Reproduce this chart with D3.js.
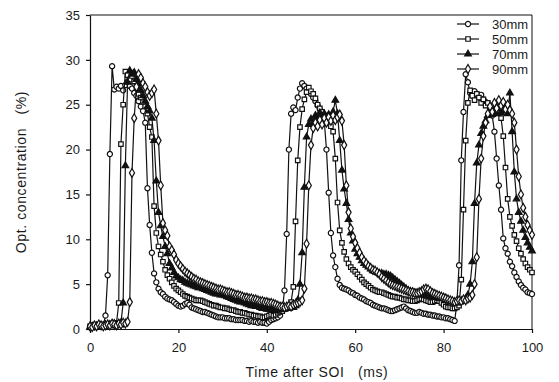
<!DOCTYPE html>
<html>
<head>
<meta charset="utf-8">
<script src="https://cdnjs.cloudflare.com/ajax/libs/d3/7.8.5/d3.min.js"></script>
<style>
  body { margin: 0; background: #fff; }
  text { font-family: 'Liberation Sans', Arial, sans-serif; fill: #1a1a1a; }
</style>
</head>
<body>
<div class="container"></div>
<script>
// samples every 0.5 ms, 0..100
let times = d3.range(0, 100.5, 0.5);

let xTicks = [0, 20, 40, 60, 80, 100];
let yTicks = [0, 5, 10, 15, 20, 25, 30, 35];

let seriesNames = ['30mm', '50mm', '70mm', '90mm'];

let s30 = [
  0.2,0.3,0.2,0.4,0.3,0.5,0.4,1.5,6.0,19.5,29.3,26.7,27.0,26.8,27.1,26.6,27.2,27.6,27.1,26.8,
  26.3,26.0,25.4,24.8,24.3,23.0,15.7,11.6,8.5,6.2,5.2,4.5,4.1,3.9,3.6,3.4,3.3,3.2,3.0,2.8,
  2.6,2.5,2.6,2.8,2.9,2.7,2.4,2.3,2.2,2.1,2.0,1.9,1.9,1.8,1.7,1.6,1.5,1.4,1.3,1.3,
  1.3,1.2,1.2,1.2,1.1,1.1,1.0,1.0,1.0,1.0,0.9,0.9,0.8,0.9,0.8,0.8,0.7,0.8,0.7,0.7,
  0.6,0.8,1.0,1.1,1.2,1.3,1.5,2.0,4.3,10.6,20.0,24.0,24.7,24.4,25.8,26.8,27.4,27.1,26.8,26.6,
  26.2,25.8,25.4,24.9,24.5,24.0,23.2,20.0,15.2,10.7,8.2,6.9,5.6,4.9,4.6,4.5,4.4,4.3,4.1,4.0,
  3.8,3.7,3.5,3.4,3.3,3.1,3.0,2.9,2.7,2.6,2.5,2.4,2.3,2.3,2.2,2.1,2.0,2.0,2.1,2.2,
  2.3,2.4,2.5,2.3,2.1,2.0,1.9,1.8,1.8,1.9,1.8,1.7,1.7,1.6,1.6,1.5,1.5,1.4,1.4,1.3,
  1.3,1.2,1.2,1.1,1.0,0.9,2.8,7.1,18.8,24.2,28.4,27.5,26.3,26.0,26.5,26.2,25.8,26.1,25.6,25.3,
  25.0,24.6,23.8,22.0,19.0,16.0,13.3,10.1,9.0,8.4,7.5,7.0,6.3,5.8,5.3,4.9,4.6,4.4,4.1,4.0,
  3.9
];

let s50 = [
  0.3,0.4,0.3,0.5,0.4,0.3,0.5,0.4,0.5,0.6,0.5,0.6,0.7,2.9,20.6,25.0,28.7,28.3,27.8,28.2,
  27.6,27.0,26.2,25.8,25.3,24.8,24.0,22.5,21.4,13.7,10.7,9.2,8.3,7.5,6.6,6.0,5.6,5.2,4.8,4.5,
  4.3,4.1,3.9,3.7,3.6,3.5,3.4,3.3,3.2,3.2,3.2,3.1,3.0,2.9,2.8,2.7,2.6,2.6,2.5,2.4,
  2.4,2.3,2.3,2.2,2.1,2.1,2.0,1.9,1.9,1.8,1.8,1.7,1.6,1.6,1.5,1.5,1.4,1.4,1.3,1.3,
  1.4,1.5,1.6,1.5,1.6,1.8,1.9,2.0,2.2,2.4,2.6,3.0,4.7,12.0,18.8,22.5,24.5,25.6,26.4,26.9,
  26.5,26.2,25.7,25.0,24.6,24.2,23.8,23.3,23.0,22.6,22.0,19.0,14.1,11.0,9.6,8.6,7.8,7.3,6.9,6.6,
  6.4,6.1,5.8,5.5,5.2,5.0,4.8,4.6,4.4,4.3,4.2,4.1,4.1,4.0,3.9,3.8,3.7,3.6,3.6,3.5,
  3.5,3.4,3.3,3.3,3.2,3.2,3.1,3.1,3.2,3.3,3.4,3.3,3.2,3.1,3.0,3.0,3.1,3.2,3.1,2.9,
  2.7,2.5,2.4,2.4,2.3,2.3,2.4,2.6,5.5,13.3,21.0,25.2,26.6,26.0,25.5,26.2,25.8,25.2,25.6,24.9,
  25.2,24.6,24.9,24.3,24.6,24.1,23.5,21.5,18.0,14.5,12.5,11.5,10.5,9.8,9.0,8.4,7.8,7.3,6.9,6.6,
  6.3
];

let s70 = [
  0.2,0.3,0.4,0.3,0.2,0.4,0.3,0.5,0.4,0.5,0.4,0.6,0.5,0.6,0.7,2.9,18.2,27.5,28.8,28.4,
  28.6,27.8,27.3,26.6,26.0,25.4,24.8,24.3,23.5,21.0,16.5,13.0,11.5,10.3,9.2,8.4,7.3,6.8,6.3,5.9,
  5.7,5.5,5.4,5.2,5.1,5.0,4.9,4.8,4.7,4.6,4.6,4.5,4.4,4.3,4.2,4.1,4.0,3.9,3.9,3.8,
  3.8,3.7,3.6,3.5,3.4,3.3,3.2,3.1,3.0,3.0,2.9,2.8,2.7,2.6,2.6,2.5,2.5,2.4,2.3,2.3,
  2.2,2.2,2.1,2.1,2.0,2.1,2.2,2.3,2.2,2.4,2.3,2.5,2.4,2.6,3.2,5.0,8.5,15.8,21.4,22.8,
  23.4,23.0,23.8,23.4,24.1,23.6,24.0,23.5,23.9,23.2,24.2,25.5,24.0,21.0,17.7,15.6,14.0,12.2,10.7,9.8,
  8.9,8.4,8.0,7.6,7.3,7.1,6.9,6.7,6.5,6.4,6.3,6.2,6.2,6.1,6.1,6.0,5.9,5.7,5.5,5.3,
  5.1,4.9,4.7,4.5,4.3,4.2,4.1,4.0,3.9,3.9,3.8,3.8,3.7,3.7,3.6,3.6,3.5,3.5,3.4,3.4,
  3.4,3.3,3.2,3.1,3.0,3.0,2.9,3.0,3.1,3.2,3.4,3.8,5.0,7.5,14.0,18.5,20.5,21.8,22.6,23.2,
  23.8,24.3,23.9,24.5,24.0,24.6,24.1,24.8,24.3,24.0,26.3,22.0,17.5,14.5,13.0,12.0,11.0,10.2,9.6,9.1,
  8.7
];

let s90 = [
  0.3,0.2,0.4,0.3,0.5,0.4,0.3,0.4,0.5,0.4,0.6,0.5,0.4,0.6,0.5,0.7,0.6,0.8,3.0,17.4,
  23.5,27.0,28.4,28.0,27.4,27.0,26.4,26.0,26.3,26.7,24.0,21.0,16.0,11.8,11.0,10.4,9.2,8.8,8.3,7.7,
  7.3,7.0,6.7,6.4,6.2,6.0,5.8,5.6,5.5,5.3,5.2,5.1,5.0,4.9,4.8,4.7,4.6,4.5,4.4,4.4,
  4.3,4.2,4.1,4.1,4.0,3.9,3.8,3.8,3.7,3.6,3.5,3.5,3.4,3.4,3.3,3.3,3.2,3.1,3.1,3.0,
  3.0,2.9,2.9,2.8,2.7,2.6,2.5,2.5,2.4,2.5,2.6,2.5,2.7,2.8,2.9,3.0,3.2,4.5,9.5,16.0,
  20.5,22.4,23.0,22.6,23.3,22.8,23.5,23.0,23.6,23.2,23.8,23.3,23.6,23.9,23.2,20.5,16.0,13.0,11.2,10.3,
  9.6,9.0,8.5,8.0,7.6,7.3,7.0,6.8,6.6,6.5,6.3,6.1,5.8,5.6,5.4,5.2,5.0,4.9,4.8,4.7,
  4.6,4.5,4.4,4.3,4.2,4.1,4.1,4.0,4.0,4.1,4.2,4.4,4.5,4.4,4.2,4.0,3.9,3.8,3.7,3.6,
  3.5,3.4,3.3,3.2,3.1,3.0,3.1,3.2,3.1,3.3,3.2,3.4,3.5,3.8,5.0,8.0,14.5,19.0,21.5,23.0,
  24.0,24.8,24.2,25.2,24.6,25.5,24.9,25.3,24.5,25.0,24.4,24.0,23.0,20.0,17.0,15.0,13.5,12.5,11.6,11.0,
  10.5
];

let series = [
  { name: seriesNames[0], values: s30, symbol: d3.symbolCircle, size: 21, fill: '#fff' },
  { name: seriesNames[1], values: s50, symbol: d3.symbolSquare, size: 20, fill: '#fff' },
  { name: seriesNames[2], values: s70, symbol: d3.symbolTriangle, size: 19, fill: '#111' },
  { name: seriesNames[3], values: s90, symbol: d3.symbolDiamond, size: 23, fill: '#fff' }
];

let margin = { top: 15, right: 27, bottom: 53, left: 90 };
let width = 559 - margin.left - margin.right;
let height = 382 - margin.top - margin.bottom;

let svgBuild = d3
  .select('.container')
  .append('svg')
  .attr('width', width + margin.left + margin.right)
  .attr('height', height + margin.top + margin.bottom)
  .append('g')
  .attr('transform', 'translate(' + margin.left + ',' + margin.top + ')');

let xScale = d3.scaleLinear().domain([0, 100]).range([0, width]);
let yScale = d3.scaleLinear().domain([0, 35]).range([height, 0]);

let xAxis = d3.axisBottom(xScale).tickValues(xTicks).tickSize(4).tickSizeOuter(0).tickPadding(10);
let yAxis = d3.axisLeft(yScale).tickValues(yTicks).tickSize(4).tickSizeOuter(0).tickPadding(6);

let gx = svgBuild
  .append('g')
  .attr('id', 'x-axis')
  .attr('transform', 'translate(0,' + height + ')')
  .call(xAxis);

let gy = svgBuild.append('g').attr('id', 'y-axis').call(yAxis);

[gx, gy].forEach((g) => {
  g.selectAll('path, line').attr('stroke', '#111').attr('stroke-width', 1.2);
  g.selectAll('text').style('font-size', '13px').attr('fill', '#1a1a1a');
});

// top and right frame
svgBuild.append('line').attr('x1', 0).attr('x2', width).attr('y1', 0).attr('y2', 0)
  .attr('stroke', '#111').attr('stroke-width', 1.2);
svgBuild.append('line').attr('x1', width).attr('x2', width).attr('y1', 0).attr('y2', height)
  .attr('stroke', '#111').attr('stroke-width', 1);

let line = d3
  .line()
  .x((d, i) => xScale(times[i]))
  .y((d) => yScale(d));

series.forEach((s) => {
  let g = svgBuild.append('g').attr('class', 'series');
  g.append('path')
    .datum(s.values)
    .attr('d', line)
    .attr('fill', 'none')
    .attr('stroke', '#111')
    .attr('stroke-width', 1.2);
  g.selectAll('.dot')
    .data(s.values)
    .enter()
    .append('path')
    .attr('class', 'dot')
    .attr('d', d3.symbol().type(s.symbol).size(s.size))
    .attr('transform', (d, i) => 'translate(' + xScale(times[i]) + ',' + yScale(d) + ')')
    .attr('fill', s.fill)
    .attr('stroke', '#111')
    .attr('stroke-width', 1.2);
});

// legend
let legend = svgBuild
  .append('g')
  .attr('transform', 'translate(' + (width - 75) + ',9)');

series.forEach((s, i) => {
  let row = legend.append('g').attr('transform', 'translate(0,' + i * 15 + ')');
  row.append('line').attr('x1', 0).attr('x2', 22).attr('y1', 0).attr('y2', 0)
    .attr('stroke', '#111').attr('stroke-width', 1.2);
  row.append('path')
    .attr('d', d3.symbol().type(s.symbol).size(s.size))
    .attr('transform', 'translate(11,0)')
    .attr('fill', s.fill)
    .attr('stroke', '#111')
    .attr('stroke-width', 1.2);
  row.append('text')
    .attr('x', 35)
    .attr('y', 0)
    .attr('dy', '0.35em')
    .style('font-size', '13px')
    .text(s.name);
});

// axis titles
svgBuild
  .append('text')
  .attr('x', 227)
  .attr('y', height + 48)
  .attr('text-anchor', 'middle')
  .style('font-size', '14px')
  .style('letter-spacing', '0.6px')
  .style('white-space', 'pre')
  .text('Time after SOI   (ms)');

svgBuild
  .append('text')
  .attr('transform', 'translate(' + (-64) + ',' + 157 + ') rotate(-90)')
  .attr('text-anchor', 'middle')
  .style('font-size', '14px')
  .style('letter-spacing', '0.6px')
  .style('white-space', 'pre')
  .text('Opt. concentration   (%)');
</script>
</body>
</html>
